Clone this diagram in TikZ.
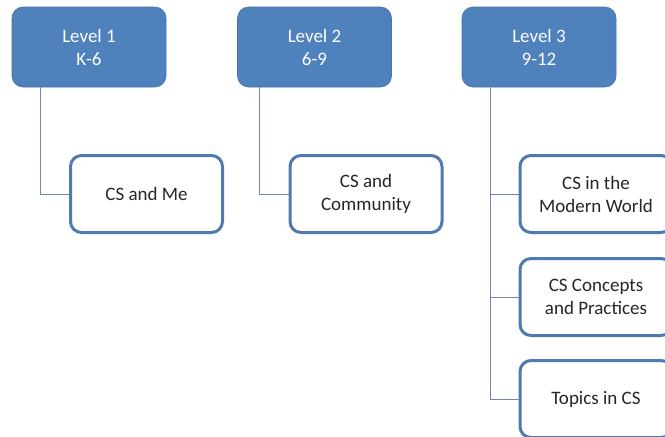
\documentclass[tikz,border=0pt]{standalone}
\usepackage{fontspec}
\setmainfont{Carlito}
\definecolor{topfill}{RGB}{79,129,189}
\definecolor{childline}{RGB}{80,121,176}
\definecolor{conn}{RGB}{112,136,172}
\begin{document}
\begin{tikzpicture}[x=1pt,y=-1pt,
  topbox/.style={rectangle, rounded corners=11pt, fill=topfill, draw=topfill!90!black, line width=0.6pt,
    minimum width=154pt, minimum height=80pt, text=white, align=center,
    font=\fontsize{19}{23}\selectfont, inner sep=0pt},
  childbox/.style={rectangle, rounded corners=11pt, fill=white, draw=childline, line width=3pt,
    minimum width=152pt, minimum height=77pt, text=black!85, align=center,
    font=\fontsize{19}{23}\selectfont, inner sep=0pt},
  link/.style={draw=conn, line width=1pt}]
\useasboundingbox (0,0) rectangle (665,437);
\clip (0,0) rectangle (665,437);
\node[topbox] (l1) at (89,47) {Level 1\\K-6};
\node[topbox] (l2) at (314.5,47) {Level 2\\6-9};
\node[topbox] (l3) at (539,47) {Level 3\\9-12};
\coordinate (v1) at (40,87);
\coordinate (v2) at (259,87);
\coordinate (v3) at (490,87);
\node[childbox] (m1) at (146.5,194) {CS and Me};
\node[childbox] (m2) at (366,194) {CS and\\Community};
\node[childbox] (a3) at (596,194) {CS in the\\Modern World};
\node[childbox] (b3) at (596,297) {CS Concepts\\and Practices};
\node[childbox] (c3) at (596,399) {Topics in CS};
\draw[link] (v1) |- (m1.west);
\draw[link] (v2) |- (m2.west);
\draw[link] (v3) |- (c3.west);
\draw[link] (v3 |- a3.west) -- (a3.west);
\draw[link] (v3 |- b3.west) -- (b3.west);
\end{tikzpicture}
\end{document}
